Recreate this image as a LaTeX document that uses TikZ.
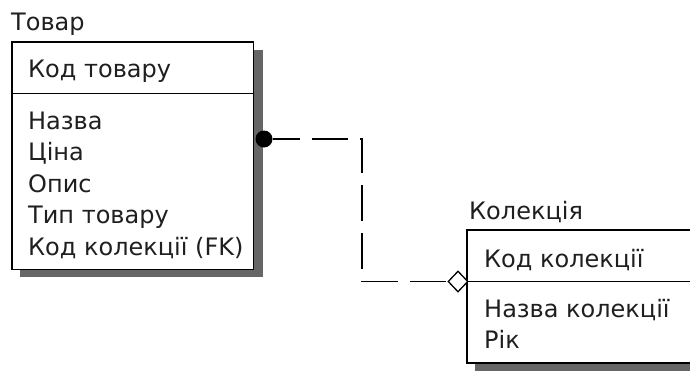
\documentclass[tikz,border=0pt]{standalone}
\usepackage{fontspec}
\setmainfont{DejaVu Sans}
\usetikzlibrary{shapes.geometric}
\begin{document}
\begin{tikzpicture}[x=1pt,y=-1pt,
  txt/.style={anchor=base west, inner sep=0pt, font=\fontsize{24}{28}\selectfont, text=black!88},
  entity/.style={draw=black, line width=1.8pt, fill=white},
  shade/.style={fill=black!60},
  sep/.style={draw=black, line width=1.8pt},
  rel/.style={line width=1.7pt, dash pattern=on 36pt off 12pt, dash phase=8.5pt}]
\clip (0,0) rectangle (690,376);
\fill[white] (0,0) rectangle (690,376);

% ---- Товар ----
\fill[shade] (20,50) rectangle (262.5,277);
\draw[entity] (12,42) rectangle (253.5,269.5);
\draw[sep] (12,93.5) -- (253.5,93.5);
\node[txt] (t1title) at (11,30) {Товар};
\node[txt] (t1key)   at (28,77) {Код товару};
\node[txt] (t1a1)    at (28,129) {Назва};
\node[txt] (t1a2)    at (28,160.5) {Ціна};
\node[txt] (t1a3)    at (28,192) {Опис};
\node[txt] (t1a4)    at (28,223.5) {Тип товару};
\node[txt] (t1a5)    at (28,255) {Код колекції (FK)};

% ---- Колекція ----
\fill[shade] (475,238) rectangle (700,371);
\draw[entity] (467,230) rectangle (710,363);
\draw[sep] (467,281.5) -- (710,281.5);
\node[txt] (t2title) at (469,219) {Колекція};
\node[txt] (t2key)   at (484,267) {Код колекції};
\node[txt] (t2a1)    at (484,317) {Назва колекції};
\node[txt] (t2a2)    at (484,348.5) {Рік};

% ---- relationship ----
\node[circle, fill=black, inner sep=0pt, minimum size=17pt] (dot) at (264,139) {};
\node[diamond, draw=black, fill=white, line width=1.3pt, inner sep=0pt,
      minimum width=20pt, minimum height=21pt] (dia) at (458,281.5) {};
\coordinate (c1) at (362,139);
\coordinate (c2) at (362,281.5);
\draw[rel] (dot.east) -- (c1) -- (c2) -- (dia.west);
\end{tikzpicture}
\end{document}
